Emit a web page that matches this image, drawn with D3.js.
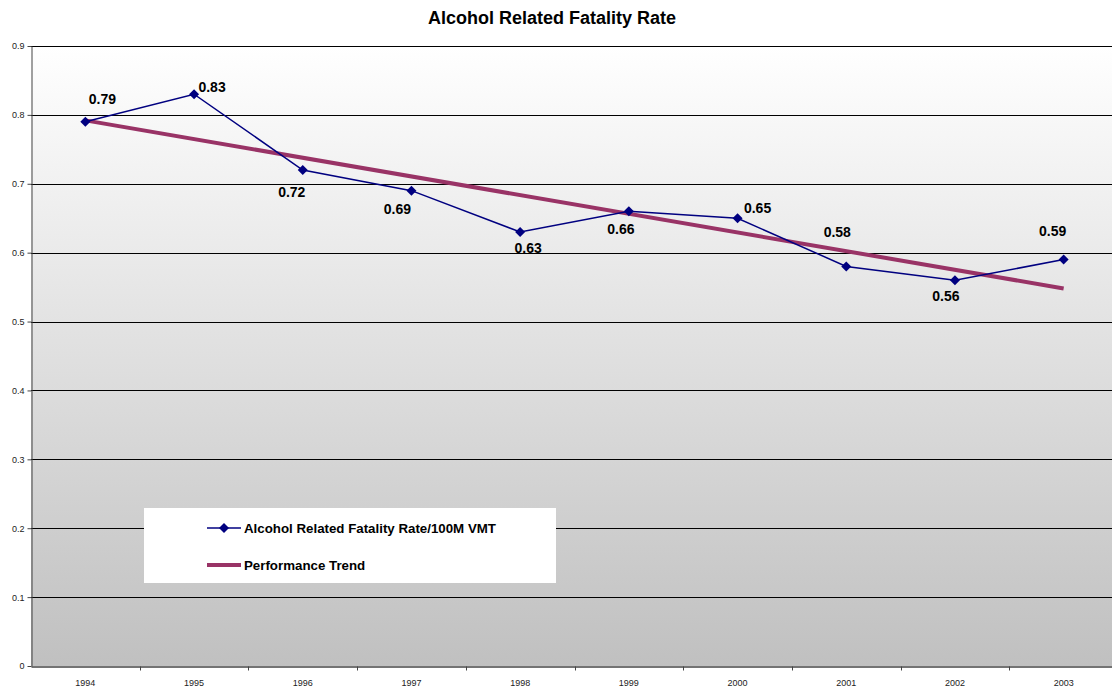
<!DOCTYPE html>
<html>
<head>
<meta charset="utf-8">
<script src="https://cdn.jsdelivr.net/npm/d3@7"></script>
<style>
  body { margin: 0; background: #fff; }
  svg { display: block; font-family: Arial, "Liberation Sans", sans-serif; }
</style>
</head>
<body>
<svg id="chart" width="1112" height="691"></svg>
<script>
const years = ['1994', '1995', '1996', '1997', '1998', '1999', '2000', '2001', '2002', '2003'];
const rates = [0.79, 0.83, 0.72, 0.69, 0.63, 0.66, 0.65, 0.58, 0.56, 0.59];
// trend line end values
const trendYears = ['1994', '2003'];
const trendValues = [0.792, 0.548];
const yTicks = [0, 0.1, 0.2, 0.3, 0.4, 0.5, 0.6, 0.7, 0.8, 0.9];
// where each data label sits relative to its point (dx, dy in px)
const labelOffsets = [[17, -23], [18, -7], [-11, 22], [-14, 18], [8, 16], [-8, 18], [20, -10], [-9, -34], [-9, 16], [-11, -28]];

const svg = d3.select('#chart');
const plotLeft = 31, plotTop = 46, plotBottom = 666, plotRight = 1118;

const x = d3.scaleBand().domain(years).range([plotLeft, plotRight]);
const y = d3.scaleLinear().domain([0, 0.9]).range([plotBottom, plotTop]);

// background gradient
const defs = svg.append('defs');
const grad = defs.append('linearGradient').attr('id', 'bg').attr('x1', 0).attr('y1', 0).attr('x2', 0).attr('y2', 1);
grad.append('stop').attr('offset', '0%').attr('stop-color', '#ffffff');
grad.append('stop').attr('offset', '100%').attr('stop-color', '#c0c0c0');

svg.append('rect')
    .attr('x', plotLeft).attr('y', plotTop)
    .attr('width', plotRight - plotLeft).attr('height', plotBottom - plotTop)
    .attr('fill', 'url(#bg)');

// title
svg.append('text')
    .attr('x', 552).attr('y', 24)
    .attr('text-anchor', 'middle')
    .attr('font-size', 18).attr('font-weight', 'bold')
    .text('Alcohol Related Fatality Rate');

// gridlines
svg.append('g').selectAll('line')
    .data(yTicks.slice(1))
    .join('line')
    .attr('x1', plotLeft).attr('x2', plotRight)
    .attr('y1', d => Math.round(y(d)) + 0.5).attr('y2', d => Math.round(y(d)) + 0.5)
    .attr('stroke', '#000').attr('stroke-width', 1);

// y axis
const yAxis = svg.append('g')
    .attr('transform', `translate(${plotLeft + 0.5},0)`)
    .call(d3.axisLeft(y).tickValues(yTicks).tickSize(4).tickSizeOuter(0).tickFormat(d3.format('')));
yAxis.select('.domain').attr('stroke', '#444');
yAxis.selectAll('.tick line').attr('stroke', '#444');
yAxis.selectAll('.tick text').attr('font-size', 9).attr('font-family', 'Arial, "Liberation Sans", sans-serif').attr('fill', '#222').attr('x', -7);

// x axis
const xAxis = svg.append('g')
    .attr('transform', `translate(0,${plotBottom + 0.5})`)
    .call(d3.axisBottom(x).tickSize(0).tickSizeOuter(0));
xAxis.select('.domain').attr('stroke', '#444').attr('stroke-width', 1.5);
xAxis.selectAll('.tick text').attr('font-size', 9).attr('font-family', 'Arial, "Liberation Sans", sans-serif').attr('fill', '#222').attr('dy', '1.85em');
// tick marks between categories
xAxis.selectAll('line.sep')
    .data(years.slice(1))
    .join('line')
    .attr('class', 'sep')
    .attr('x1', d => Math.round(x(d)) + 0.5).attr('x2', d => Math.round(x(d)) + 0.5)
    .attr('y1', 0).attr('y2', 4)
    .attr('stroke', '#444');

const cx = d => x(d) + x.bandwidth() / 2;

// trend line
svg.append('path')
    .datum(trendYears.map((yr, i) => [yr, trendValues[i]]))
    .attr('fill', 'none')
    .attr('stroke', '#993366')
    .attr('stroke-width', 4)
    .attr('d', d3.line().x(d => cx(d[0])).y(d => y(d[1])));

// data line
const pts = years.map((yr, i) => [yr, rates[i]]);
svg.append('path')
    .datum(pts)
    .attr('fill', 'none')
    .attr('stroke', '#000080')
    .attr('stroke-width', 1.5)
    .attr('d', d3.line().x(d => cx(d[0])).y(d => y(d[1])));

const diamond = d3.symbol().type(d3.symbolDiamond2).size(64);
svg.append('g').selectAll('path')
    .data(pts)
    .join('path')
    .attr('transform', d => `translate(${cx(d[0])},${y(d[1])})`)
    .attr('d', diamond)
    .attr('fill', '#000080');

// data labels
svg.append('g').selectAll('text')
    .data(pts)
    .join('text')
    .attr('x', (d, i) => cx(d[0]) + labelOffsets[i][0])
    .attr('y', (d, i) => y(d[1]) + labelOffsets[i][1])
    .attr('dy', '0.35em')
    .attr('text-anchor', 'middle')
    .attr('font-size', 14).attr('font-weight', 'bold')
    .text(d => d[1].toFixed(2));

// legend
const legend = svg.append('g');
legend.append('rect')
    .attr('x', 144).attr('y', 508).attr('width', 412).attr('height', 75)
    .attr('fill', '#fff');
legend.append('line')
    .attr('x1', 207).attr('x2', 241).attr('y1', 528).attr('y2', 528)
    .attr('stroke', '#000080').attr('stroke-width', 1.5);
legend.append('path')
    .attr('transform', 'translate(224,528)')
    .attr('d', diamond)
    .attr('fill', '#000080');
legend.append('text')
    .attr('x', 244).attr('y', 528).attr('dy', '0.35em')
    .attr('font-size', 13.3).attr('font-weight', 'bold')
    .text('Alcohol Related Fatality Rate/100M VMT');
legend.append('line')
    .attr('x1', 207).attr('x2', 241).attr('y1', 565).attr('y2', 565)
    .attr('stroke', '#993366').attr('stroke-width', 4);
legend.append('text')
    .attr('x', 244).attr('y', 565).attr('dy', '0.35em')
    .attr('font-size', 13.3).attr('font-weight', 'bold')
    .text('Performance Trend');
</script>
</body>
</html>
